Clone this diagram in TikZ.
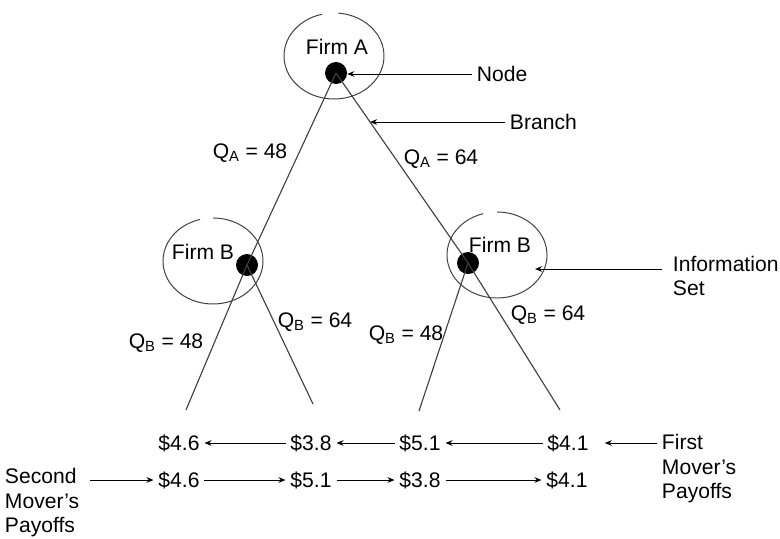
\documentclass[tikz,border=0pt]{standalone}
\usepackage{fontspec}
\setmainfont{Liberation Sans}
\usepackage{tikz}
\usetikzlibrary{arrows.meta}
\definecolor{lgray}{HTML}{404040}

\begin{document}
\begin{tikzpicture}[x=0.025cm,y=-0.025cm,
    every node/.style={font=\fontsize{15}{17.4}\selectfont},
    dot/.style={circle,fill=black,inner sep=0pt,minimum size=0.55cm},
    branch/.style={lgray,line width=0.8pt},
    arr/.style={black,line width=0.7pt,-{Stealth[length=5pt,width=4pt]}}]

  \useasboundingbox (0,0) rectangle (780,538);

  % ----- macro: \infoset{centre}{start}{end} (ellipse, open at the top) -----
  \newcommand{\infoset}[3]{%
    \draw[lgray, line width=0.7pt] (#1) ++(#2:1.25cm and 1.075cm)
      arc[start angle=#2, end angle=#3, x radius=1.25cm, y radius=1.075cm];
  }

  % ----- decision nodes -----
  \node[dot] (A)  at (336,73)  {};
  \node[dot] (B1) at (247,265) {};
  \node[dot] (B2) at (468,263) {};

  \coordinate (L1) at (186,410);
  \coordinate (L2) at (313,404);
  \coordinate (L3) at (419,411);
  \coordinate (L4) at (560,410);

  % ----- branches -----
  \draw[branch] (A.center) -- (B1.center);
  \draw[branch] (A.center) -- (B2.center);
  \draw[branch] (B1.center) -- (L1);
  \draw[branch] (B1.center) -- (L2);
  \draw[branch] (B2.center) -- (L3);
  \draw[branch] (B2.center) -- (L4);

  % ----- information sets -----
  \coordinate (eA)  at (334,56);
  \coordinate (eB1) at (213,261);
  \coordinate (eB2) at (497,255);
  \infoset{eA}{104}{445}
  \infoset{eB1}{105}{450}
  \infoset{eB2}{106}{450}

  \node (fa)  at (337,47)  {Firm A};
  \node (fb1) at (203,252) {Firm B};
  \node (fb2) at (500,245) {Firm B};

  % ----- branch labels -----
  \node (qa1) at (250,153) {Q\textsubscript{A} = 48};
  \node (qa2) at (441,159) {Q\textsubscript{A} = 64};
  \node (qb1) at (166,343) {Q\textsubscript{B} = 48};
  \node (qb2) at (315,322) {Q\textsubscript{B} = 64};
  \node (qb3) at (406,335) {Q\textsubscript{B} = 48};
  \node (qb4) at (548,315) {Q\textsubscript{B} = 64};

  % ----- callouts -----
  \node[anchor=west] (nlbl) at (472,74) {Node};
  \draw[arr] (nlbl.west) -- (nlbl.west -| A.east);

  \path (A.center) -- (B2.center) coordinate[pos=0.258] (br);
  \node[anchor=west] (blbl) at (505,122) {Branch};
  \draw[arr] (blbl.west) -- (blbl.west -| br);

  \coordinate (is) at (535,269);
  \node[anchor=west, align=left] (info) at (668,276) {Information\\Set};
  \draw[arr] ([xshift=-4pt]info.west |- is) -- (is);

  % ----- payoffs -----
  \foreach \x/\v [count=\i] in {179/4.6, 311/3.8, 420/5.1, 568/4.1}
    \node (p\i) at (\x,443) {\$\v};
  \foreach \x/\v [count=\i] in {179/4.6, 311/5.1, 420/3.8, 567/4.1}
    \node (s\i) at (\x,480) {\$\v};

  \draw[arr] (p2.west) -- (p1.east);
  \draw[arr] (p3.west) -- (p2.east);
  \draw[arr] (p4.west) -- (p3.east);
  \draw[arr] (s1.east) -- (s2.west);
  \draw[arr] (s2.east) -- (s3.west);
  \draw[arr] (s3.east) -- (s4.west);

  \node[anchor=west, align=left] (first)  at (657,469) {First\\Mover's\\Payoffs};
  \node[anchor=west, align=left] (second) at (0,503)   {Second\\Mover's\\Payoffs};
  \draw[arr, shorten >=8pt] (p4.east -| first.west) -- (p4.east);
  \draw[arr] ([xshift=4pt]s1.west -| second.east) -- (s1.west);

\end{tikzpicture}
\end{document}
